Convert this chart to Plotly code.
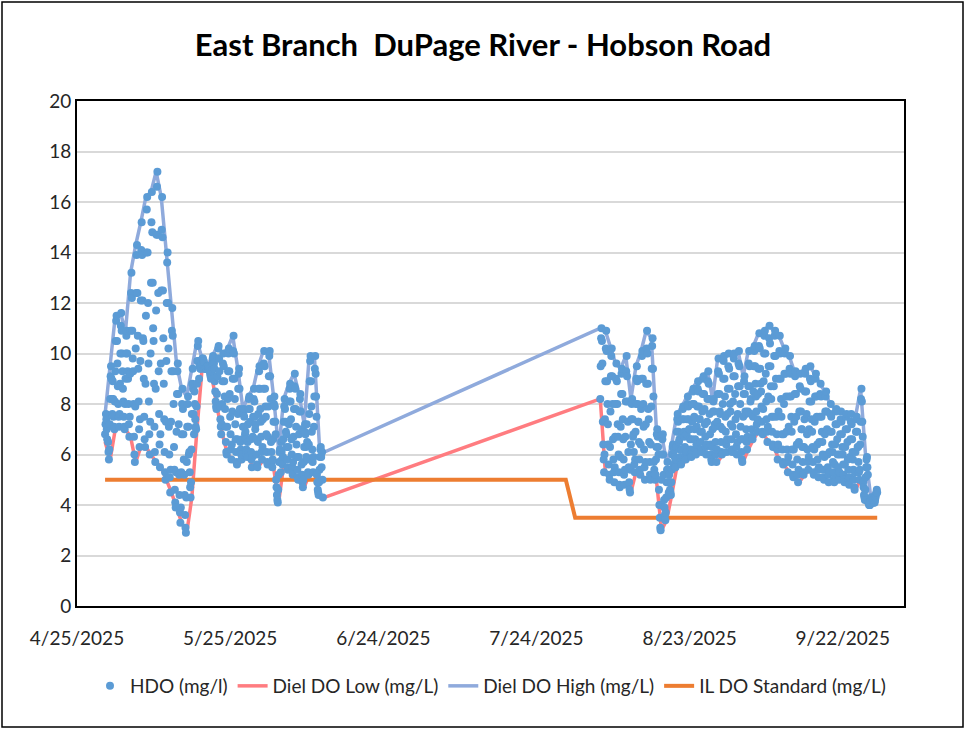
import pandas as pd
import plotly.graph_objects as go

# ---------------- data ----------------
title_text = "East Branch\u00a0 DuPage River - Hobson Road"

tick_dates = ["2025-04-25", "2025-05-25", "2025-06-24", "2025-07-24", "2025-08-23", "2025-09-22"]
tick_labels = ["4/25/2025", "5/25/2025", "6/24/2025", "7/24/2025", "8/23/2025", "9/22/2025"]
y_ticks = [0, 2, 4, 6, 8, 10, 12, 14, 16, 18, 20]

# HDO readings every 2 hours
hdo_seg1_start = "2025-04-30 12:00"
hdo_seg1 = [
    6.8, 7.2, 7.6, 7.4, 7.0, 6.6,                                      # 4/30
    7.1, 6.5, 6.1, 5.8, 6.2, 7.2, 8.2, 9.1, 9.5, 9.0, 8.2, 7.6,        # 5/1
    8.9, 8.2, 7.5, 7.1, 7.0, 8.1, 9.3, 10.5, 11.3, 11.5, 10.5, 9.6,    # 5/2
    8.7, 8.0, 7.5, 7.1, 7.6, 8.8, 10.0, 11.1, 11.6, 10.9, 10.0, 9.3,   # 5/3
    8.6, 8.1, 7.5, 7.1, 7.0, 8.0, 9.0, 10.0, 10.7, 10.9, 10.0, 9.3,    # 5/4
    9.0, 8.0, 7.2, 6.7, 7.5, 9.2, 10.9, 12.4, 13.2, 12.2, 10.9, 9.8,   # 5/5
    9.3, 8.0, 6.7, 6.0, 5.7, 7.9, 10.2, 12.4, 13.9, 14.3, 12.4, 10.7,  # 5/6
    9.4, 8.1, 7.0, 6.3, 7.4, 9.7, 12.1, 14.1, 15.2, 13.9, 12.1, 10.6,  # 5/7
    10.5, 9.0, 7.5, 6.6, 6.3, 8.8, 11.5, 14.0, 15.7, 16.2, 14.0, 12.0, # 5/8
    9.6, 8.1, 6.8, 6.0, 7.3, 10.0, 12.8, 15.2, 16.4, 14.8, 12.8, 11.0, # 5/9
    10.5, 8.8, 7.1, 6.1, 5.7, 8.6, 11.7, 14.7, 16.6, 17.2, 14.7, 12.4, # 5/10
    9.3, 7.6, 6.4, 5.5, 6.8, 9.6, 12.5, 14.9, 16.2, 14.6, 12.5, 10.6,  # 5/11
    8.8, 7.4, 6.1, 5.3, 5.0, 7.3, 9.7, 12.0, 13.6, 14.0, 12.0, 10.2,   # 5/12
    7.1, 6.0, 5.1, 4.5, 5.4, 7.3, 9.3, 10.9, 11.8, 10.7, 9.3, 8.0,     # 5/13
    6.3, 5.4, 4.6, 4.1, 3.9, 5.3, 6.9, 8.4, 9.3, 9.6, 8.4, 7.2,        # 5/14
    5.2, 4.4, 3.7, 3.3, 3.9, 5.3, 6.8, 8.0, 8.6, 7.8, 6.8, 5.8,        # 5/15
    5.2, 4.4, 3.6, 3.1, 2.9, 4.3, 5.7, 7.1, 8.0, 8.3, 7.1, 6.0,        # 5/16
    6.1, 5.3, 4.7, 4.3, 4.9, 6.2, 7.6, 8.8, 9.4, 8.6, 7.6, 6.8,        # 5/17
    8.5, 8.0, 7.4, 7.1, 7.0, 7.9, 8.8, 9.7, 10.3, 10.5, 9.7, 9.0,      # 5/18
    9.5, 9.5, 9.4, 9.4, 9.5, 9.6, 9.7, 9.8, 9.8, 9.7, 9.7, 9.6,        # 5/19
    9.4, 9.4, 9.4, 9.4, 9.4, 9.4, 9.5, 9.5, 9.5, 9.5, 9.5, 9.4,        # 5/20
    9.3, 9.2, 9.1, 9.0, 9.1, 9.3, 9.6, 9.8, 9.9, 9.8, 9.6, 9.4,        # 5/21
    8.9, 8.5, 8.1, 7.9, 7.8, 8.4, 9.1, 9.8, 10.2, 10.3, 9.8, 9.3,      # 5/22
    7.9, 7.4, 7.1, 6.8, 7.2, 8.0, 8.9, 9.6, 10.0, 9.5, 8.9, 8.3,       # 5/23
    7.8, 7.1, 6.5, 6.1, 6.0, 7.1, 8.2, 9.3, 10.0, 10.2, 9.3, 8.4,      # 5/24
    7.5, 6.8, 6.2, 5.8, 6.4, 7.7, 9.0, 10.1, 10.7, 10.0, 9.0, 8.2,     # 5/25
    7.2, 6.6, 6.1, 5.7, 5.6, 6.6, 7.6, 8.6, 9.2, 9.4, 8.6, 7.8,        # 5/26
    6.5, 6.2, 6.0, 5.8, 6.0, 6.6, 7.1, 7.6, 7.8, 7.5, 7.1, 6.8,        # 5/27
    6.9, 6.6, 6.2, 6.0, 5.9, 6.5, 7.2, 7.8, 8.2, 8.3, 7.8, 7.3,        # 5/28
    6.6, 6.1, 5.8, 5.5, 5.9, 6.7, 7.5, 8.2, 8.6, 8.1, 7.5, 7.0,        # 5/29
    7.2, 6.6, 6.0, 5.6, 5.5, 6.5, 7.6, 8.6, 9.3, 9.5, 8.6, 7.8,        # 5/30
    7.3, 6.7, 6.1, 5.8, 6.3, 7.4, 8.6, 9.6, 10.1, 9.5, 8.6, 7.9,       # 5/31
    7.5, 6.8, 6.1, 5.7, 5.6, 6.7, 7.9, 9.1, 9.9, 10.1, 9.1, 8.2,       # 6/1
    6.5, 6.1, 5.7, 5.5, 5.8, 6.6, 7.3, 8.0, 8.3, 7.9, 7.3, 6.8,        # 6/2
    5.0, 4.7, 4.4, 4.2, 4.1, 4.6, 5.2, 5.7, 6.1, 6.2, 5.7, 5.3,        # 6/3
    6.5, 6.1, 5.8, 5.6, 5.9, 6.6, 7.3, 7.9, 8.2, 7.8, 7.3, 6.9,        # 6/4
    6.8, 6.3, 5.8, 5.5, 5.4, 6.3, 7.2, 8.1, 8.6, 8.8, 8.1, 7.4,        # 6/5
    6.6, 6.0, 5.5, 5.2, 5.7, 6.7, 7.8, 8.7, 9.2, 8.6, 7.8, 7.1,        # 6/6
    6.4, 5.9, 5.4, 5.1, 5.0, 5.9, 6.8, 7.7, 8.2, 8.4, 7.7, 7.0,        # 6/7
    5.6, 5.2, 4.9, 4.7, 5.0, 5.7, 6.3, 6.9, 7.2, 6.8, 6.3, 5.9,        # 6/8
    7.2, 6.5, 5.8, 5.3, 5.2, 6.4, 7.6, 8.9, 9.7, 9.9, 8.9, 7.9,        # 6/9
    6.9, 6.2, 5.7, 5.3, 5.9, 7.1, 8.3, 9.4, 9.9, 9.2, 8.3, 7.5,        # 6/10
    5.2, 4.9, 4.6, 4.5, 4.4, 4.9, 5.4, 5.9, 6.2, 6.3, 5.9, 5.5,        # 6/11
    6.1, 5.0, 4.3,                                                     # 6/12
]

hdo_seg2_start = "2025-08-05 12:00"
hdo_seg2 = [
    8.2, 9.5, 10.6, 11.0, 10.5, 9.6,                                   # 8/5
    7.3, 6.4, 5.8, 5.3, 6.0, 7.4, 8.9, 10.2, 10.9, 10.1, 8.9, 8.0,     # 8/6
    7.2, 6.4, 5.6, 5.2, 5.0, 6.3, 7.7, 9.1, 9.9, 10.2, 9.1, 8.0,       # 8/7
    6.6, 5.8, 5.3, 4.9, 5.5, 6.7, 8.0, 9.0, 9.6, 8.9, 8.0, 7.2,        # 8/8
    6.7, 6.0, 5.3, 4.8, 4.7, 5.9, 7.1, 8.4, 9.2, 9.4, 8.4, 7.4,        # 8/9
    6.6, 5.8, 5.2, 4.8, 5.4, 6.7, 8.1, 9.3, 9.9, 9.1, 8.1, 7.3,        # 8/10
    6.1, 5.5, 4.9, 4.6, 4.5, 5.4, 6.4, 7.4, 8.0, 8.2, 7.4, 6.7,        # 8/11
    6.8, 6.1, 5.6, 5.3, 5.8, 6.9, 8.0, 9.0, 9.5, 8.9, 8.0, 7.3,        # 8/12
    7.3, 6.5, 5.8, 5.4, 5.2, 6.4, 7.8, 9.0, 9.9, 10.1, 9.0, 8.0,       # 8/13
    7.1, 6.2, 5.5, 5.0, 5.7, 7.2, 8.8, 10.2, 10.9, 10.0, 8.8, 7.8,     # 8/14
    7.4, 6.5, 5.7, 5.2, 5.0, 6.4, 7.9, 9.4, 10.3, 10.6, 9.4, 8.3,      # 8/15
    5.7, 5.4, 5.2, 5.0, 5.2, 5.8, 6.3, 6.8, 7.0, 6.7, 6.3, 6.0,        # 8/16
    4.6, 4.0, 3.5, 3.1, 3.0, 4.0, 5.0, 6.0, 6.6, 6.8, 6.0, 5.2,        # 8/17
    4.2, 3.9, 3.6, 3.4, 3.7, 4.3, 4.9, 5.4, 5.7, 5.4, 4.9, 4.5,        # 8/18
    5.2, 4.9, 4.6, 4.5, 4.4, 4.9, 5.4, 6.0, 6.3, 6.4, 6.0, 5.6,        # 8/19
    6.2, 5.9, 5.7, 5.5, 5.8, 6.3, 6.9, 7.4, 7.6, 7.3, 6.9, 6.5,        # 8/20
    6.6, 6.2, 5.9, 5.7, 5.6, 6.2, 6.8, 7.4, 7.8, 7.9, 7.4, 6.9,        # 8/21
    6.7, 6.3, 6.0, 5.8, 6.1, 6.8, 7.4, 8.0, 8.3, 7.9, 7.4, 7.0,        # 8/22
    7.0, 6.6, 6.2, 6.0, 5.9, 6.6, 7.3, 8.0, 8.5, 8.6, 8.0, 7.5,        # 8/23
    7.0, 6.6, 6.2, 6.0, 6.4, 7.1, 7.9, 8.6, 8.9, 8.5, 7.9, 7.4,        # 8/24
    7.4, 6.9, 6.5, 6.2, 6.1, 6.9, 7.7, 8.4, 9.0, 9.1, 8.4, 7.8,        # 8/25
    7.2, 6.7, 6.3, 6.0, 6.4, 7.3, 8.2, 8.9, 9.3, 8.8, 8.2, 7.6,        # 8/26
    6.8, 6.4, 6.0, 5.8, 5.7, 6.3, 7.0, 7.7, 8.1, 8.2, 7.7, 7.2,        # 8/27
    7.1, 6.5, 6.0, 5.7, 6.2, 7.3, 8.4, 9.3, 9.8, 9.2, 8.4, 7.7,        # 8/28
    7.6, 7.1, 6.5, 6.1, 6.0, 7.0, 8.0, 9.0, 9.7, 9.9, 9.0, 8.3,        # 8/29
    7.5, 6.9, 6.4, 6.1, 6.6, 7.6, 8.6, 9.5, 10.0, 9.4, 8.6, 8.0,       # 8/30
    7.7, 7.2, 6.6, 6.2, 6.1, 7.1, 8.1, 9.1, 9.8, 10.0, 9.1, 8.4,       # 8/31
    7.4, 6.8, 6.3, 6.0, 6.5, 7.6, 8.7, 9.6, 10.1, 9.5, 8.7, 8.0,       # 9/1
    7.1, 6.6, 6.1, 5.8, 5.7, 6.6, 7.5, 8.4, 8.9, 9.1, 8.4, 7.7,        # 9/2
    7.6, 7.0, 6.5, 6.2, 6.7, 7.7, 8.7, 9.6, 10.1, 9.5, 8.7, 8.1,       # 9/3
    8.2, 7.6, 7.0, 6.7, 6.6, 7.5, 8.5, 9.5, 10.1, 10.3, 9.5, 8.8,      # 9/4
    8.3, 7.7, 7.2, 6.9, 7.4, 8.4, 9.4, 10.3, 10.8, 10.2, 9.4, 8.8,     # 9/5
    8.5, 7.9, 7.3, 6.9, 6.8, 7.8, 8.9, 10.0, 10.7, 10.9, 10.0, 9.2,    # 9/6
    8.1, 7.4, 6.9, 6.5, 7.1, 8.3, 9.5, 10.6, 11.1, 10.4, 9.5, 8.7,     # 9/7
    8.2, 7.5, 6.9, 6.4, 6.3, 7.5, 8.7, 9.9, 10.7, 10.9, 9.9, 9.0,      # 9/8
    7.5, 6.8, 6.2, 5.8, 6.4, 7.7, 9.0, 10.1, 10.7, 10.0, 9.0, 8.2,     # 9/9
    7.5, 6.8, 6.2, 5.7, 5.6, 6.8, 8.0, 9.2, 10.0, 10.2, 9.2, 8.3,      # 9/10
    6.9, 6.2, 5.7, 5.3, 5.9, 7.1, 8.3, 9.4, 9.9, 9.2, 8.3, 7.5,        # 9/11
    6.9, 6.2, 5.6, 5.2, 5.1, 6.2, 7.3, 8.4, 9.1, 9.3, 8.4, 7.5,        # 9/12
    6.4, 5.8, 5.2, 4.9, 5.4, 6.5, 7.7, 8.7, 9.2, 8.6, 7.7, 7.0,        # 9/13
    7.0, 6.3, 5.7, 5.3, 5.2, 6.3, 7.4, 8.5, 9.2, 9.4, 8.5, 7.6,        # 9/14
    6.8, 6.2, 5.7, 5.4, 5.9, 7.0, 8.1, 9.0, 9.5, 8.9, 8.1, 7.4,        # 9/15
    6.9, 6.3, 5.7, 5.3, 5.2, 6.2, 7.3, 8.3, 9.0, 9.2, 8.3, 7.5,        # 9/16
    6.4, 5.8, 5.4, 5.1, 5.5, 6.5, 7.5, 8.4, 8.8, 8.3, 7.5, 6.9,        # 9/17
    6.5, 6.0, 5.4, 5.1, 5.0, 5.9, 6.8, 7.7, 8.3, 8.5, 7.7, 7.0,        # 9/18
    6.0, 5.5, 5.2, 4.9, 5.3, 6.1, 6.9, 7.6, 8.0, 7.5, 6.9, 6.4,        # 9/19
    6.1, 5.7, 5.3, 5.0, 4.9, 5.6, 6.4, 7.2, 7.7, 7.8, 7.2, 6.6,        # 9/20
    6.0, 5.5, 5.2, 5.0, 5.3, 6.0, 6.8, 7.4, 7.7, 7.3, 6.8, 6.3,        # 9/21
    6.0, 5.6, 5.2, 5.0, 4.9, 5.6, 6.3, 7.0, 7.5, 7.6, 7.0, 6.5,        # 9/22
    5.8, 5.4, 5.0, 4.8, 5.1, 5.9, 6.6, 7.3, 7.6, 7.2, 6.6, 6.1,        # 9/23
    5.8, 5.4, 5.0, 4.7, 4.6, 5.3, 6.1, 6.9, 7.4, 7.5, 6.9, 6.3,        # 9/24
    6.3, 5.7, 5.3, 5.0, 5.4, 6.4, 7.3, 8.2, 8.6, 8.1, 7.3, 6.7,        # 9/25
    4.9, 4.7, 4.4, 4.3, 4.2, 4.6, 5.1, 5.5, 5.8, 5.9, 5.5, 5.2,        # 9/26
    4.1, 4.1, 4.0, 4.0, 4.0, 4.1, 4.2, 4.3, 4.3, 4.3, 4.2, 4.1,        # 9/27
    4.2, 4.1, 4.1, 4.1, 4.2, 4.3, 4.4, 4.5, 4.6, 4.5,                  # 9/28
]

# Daily diel low / high (one value per day)
diel_seg1_start = "2025-04-30"
diel_low_seg1 = [6.5, 5.8, 7.0, 7.1, 7.0, 6.7, 5.7, 6.3, 6.3, 6.0, 5.7, 5.5, 5.0, 4.5, 3.9,
                 3.3, 2.9, 4.3, 7.0, 9.4, 9.4, 9.0, 7.8, 6.8, 6.0, 5.8, 5.6, 5.8, 5.9, 5.5,
                 5.5, 5.8, 5.6, 5.5, 4.1, 5.6, 5.4, 5.2, 5.0, 4.7, 5.2, 5.3, 4.4, 4.3]
diel_high_seg1 = [7.6, 9.5, 11.5, 11.6, 10.9, 13.2, 14.3, 15.2, 16.2, 16.4, 17.2, 16.2, 14.0, 11.8, 9.6,
                  8.6, 8.3, 9.4, 10.5, 9.8, 9.5, 9.9, 10.3, 10.0, 10.2, 10.7, 9.4, 7.8, 8.3, 8.6,
                  9.5, 10.1, 10.1, 8.3, 6.2, 8.2, 8.8, 9.2, 8.4, 7.2, 9.9, 9.9, 6.3, 6.1]
diel_seg2_start = "2025-08-05"
diel_low_seg2 = [8.2, 5.3, 5.0, 4.9, 4.7, 4.8, 4.5, 5.3, 5.2, 5.0, 5.0, 5.0, 3.0, 3.4, 4.4,
                 5.5, 5.6, 5.8, 5.9, 6.0, 6.1, 6.0, 5.7, 5.7, 6.0, 6.1, 6.1, 6.0, 5.7, 6.2,
                 6.6, 6.9, 6.8, 6.5, 6.3, 5.8, 5.6, 5.3, 5.1, 4.9, 5.2, 5.4, 5.2, 5.1, 5.0,
                 4.9, 4.9, 5.0, 4.9, 4.8, 4.6, 5.0, 4.2, 4.0, 4.1]
diel_high_seg2 = [11.0, 10.9, 10.2, 9.6, 9.4, 9.9, 8.2, 9.5, 10.1, 10.9, 10.6, 7.0, 6.8, 5.7, 6.4,
                  7.6, 7.9, 8.3, 8.6, 8.9, 9.1, 9.3, 8.2, 9.8, 9.9, 10.0, 10.0, 10.1, 9.1, 10.1,
                  10.3, 10.8, 10.9, 11.1, 10.9, 10.7, 10.2, 9.9, 9.3, 9.2, 9.4, 9.5, 9.2, 8.8, 8.5,
                  8.0, 7.8, 7.7, 7.6, 7.6, 7.5, 8.6, 5.9, 4.3, 4.6]

# Illinois DO standard
il_dates = ["2025-04-30 12:00", "2025-07-29 18:00", "2025-07-31 14:00", "2025-09-28 18:00"]
il_values = [5.0, 5.0, 3.5, 3.5]

# ---------------- build ----------------
hdo_x = list(pd.date_range(hdo_seg1_start, periods=len(hdo_seg1), freq="2h")) + \
        list(pd.date_range(hdo_seg2_start, periods=len(hdo_seg2), freq="2h"))
hdo_y = hdo_seg1 + hdo_seg2

noon = pd.Timedelta(hours=12)
diel_x = list(pd.date_range(diel_seg1_start, periods=len(diel_low_seg1), freq="D") + noon) + \
         list(pd.date_range(diel_seg2_start, periods=len(diel_low_seg2), freq="D") + noon)
diel_low = diel_low_seg1 + diel_low_seg2
diel_high = diel_high_seg1 + diel_high_seg2

FONT = "Lato, 'Open Sans', sans-serif"
TXT = "#262626"

fig = go.Figure()
fig.add_trace(go.Scatter(x=diel_x, y=diel_low, mode="lines", name="Diel DO Low (mg/L)",
                         line=dict(color="#ff7c80", width=3.5), legendrank=2))
fig.add_trace(go.Scatter(x=diel_x, y=diel_high, mode="lines", name="Diel DO High (mg/L)",
                         line=dict(color="#8faadc", width=3.5), legendrank=3))
fig.add_trace(go.Scatter(x=pd.to_datetime(il_dates), y=il_values, mode="lines",
                         name="IL DO Standard (mg/L)",
                         line=dict(color="#ed7d31", width=4), legendrank=4))
fig.add_trace(go.Scatter(x=hdo_x, y=hdo_y, mode="markers", name="HDO (mg/l)",
                         marker=dict(color="#5b9bd5", size=8), legendrank=1))

L, R, T, B = 77, 62, 101, 123
W, H = 966, 729
pw, ph = W - L - R, H - T - B

fig.update_layout(
    width=W, height=H,
    margin=dict(l=L, r=R, t=T, b=B),
    paper_bgcolor="white", plot_bgcolor="white",
    font=dict(family=FONT, size=19, color=TXT),
    title=dict(text="<b>" + title_text + "</b>", x=0.5, xanchor="center",
               y=1 - 45 / H, yanchor="middle",
               font=dict(family=FONT, size=31, color="black")),
    legend=dict(orientation="h", x=0.5, xanchor="center", y=(ph - (686 - T)) / ph,
                yanchor="middle", font=dict(size=19, color=TXT), traceorder="normal",
                itemwidth=30),
    xaxis=dict(type="date", range=["2025-04-25", "2025-10-04"],
               tickvals=pd.to_datetime(tick_dates), ticktext=tick_labels,
               showgrid=False, showline=True, linecolor="black", linewidth=2, mirror=True,
               ticks="", zeroline=False, ticklabelstandoff=14,
               tickfont=dict(size=19, color=TXT)),
    yaxis=dict(range=[0, 20], tickvals=y_ticks, showgrid=True, gridcolor="#d9d9d9", gridwidth=2,
               showline=True, linecolor="black", linewidth=2, mirror=True, ticks="",
               zeroline=False, tickfont=dict(size=19, color=TXT)),
    shapes=[dict(type="rect", xref="paper", yref="paper",
                 x0=(2 - L) / pw, x1=(W - 3 - L) / pw,
                 y0=(ph + T - (H - 2)) / ph, y1=(ph + T - 2) / ph,
                 line=dict(color="black", width=1.5), fillcolor="rgba(0,0,0,0)", layer="below")],
)

fig.write_html("out.html", config={"displayModeBar": False},
               post_script="document.body.style.margin='0px';")
